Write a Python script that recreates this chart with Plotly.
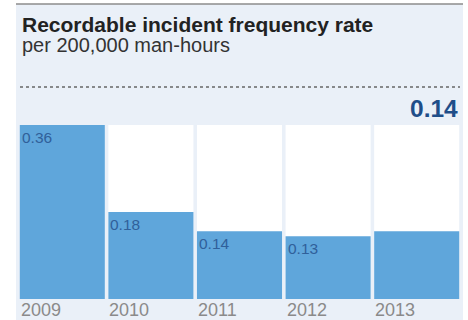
import plotly.graph_objects as go

years = ["2009", "2010", "2011", "2012", "2013"]
rates = [0.36, 0.18, 0.14, 0.13, 0.14]
headline = "0.14"
title = "Recordable incident frequency rate"
subtitle = "per 200,000 man-hours"

# plot area in pixels: x 18..461, y 125..299
W, H = 468, 320
L, R, T, B = 18, 7, 125, 21
pw, ph = W - L - R, H - T - B


def px_x(p):
    return (p - L) / pw


def px_y(p):
    return (H - B - p) / ph


font = "Liberation Sans, Arial, Helvetica, sans-serif"
xs = list(range(len(years)))
top = max(rates)
gap = 0.04
half = (1 - gap) / 2

fig = go.Figure()
fig.add_trace(go.Bar(x=xs, y=[top] * len(xs), marker=dict(color="white", line=dict(width=0)),
                     hoverinfo="skip", showlegend=False))
fig.add_trace(go.Bar(x=xs, y=rates, marker=dict(color="#5fa6db", line=dict(width=0)),
                     showlegend=False))

# value labels inside bars (last one is shown as headline)
for i, v in enumerate(rates[:-1]):
    fig.add_annotation(x=i - half, y=v, xref="x", yref="y", text=f"{v:.2f}",
                       showarrow=False, xanchor="left", yanchor="middle", xshift=0, yshift=-12,
                       font=dict(family=font, size=15.5, color="#30609a"))

# year labels below bars
for i, yr in enumerate(years):
    fig.add_annotation(x=i - half, y=px_y(310), xref="x", yref="paper", text=yr,
                       showarrow=False, xanchor="left", yanchor="middle", xshift=-1,
                       font=dict(family=font, size=18, color="#8a8a8a"))

fig.add_annotation(x=px_x(20), y=px_y(24), xref="paper", yref="paper", text=f"<b>{title}</b>",
                   showarrow=False, xanchor="left", yanchor="middle",
                   font=dict(family=font, size=21, color="#222222"))
fig.add_annotation(x=px_x(20), y=px_y(45), xref="paper", yref="paper", text=subtitle,
                   showarrow=False, xanchor="left", yanchor="middle",
                   font=dict(family=font, size=20, color="#333333"))
fig.add_annotation(x=px_x(460), y=px_y(108), xref="paper", yref="paper", text=f"<b>{headline}</b>",
                   showarrow=False, xanchor="right", yanchor="middle",
                   font=dict(family=font, size=24.5, color="#1f4e89"))

fig.update_layout(
    width=W, height=H,
    margin=dict(l=L, r=R, t=T, b=B),
    paper_bgcolor="white",
    plot_bgcolor="rgba(0,0,0,0)",
    barmode="overlay",
    bargap=gap,
    xaxis=dict(range=[-0.5, len(xs) - 0.5], showticklabels=False, showgrid=False,
               zeroline=False, fixedrange=True),
    yaxis=dict(range=[0, top], showticklabels=False, showgrid=False,
               zeroline=False, fixedrange=True),
    shapes=[
        dict(type="rect", xref="paper", yref="paper", x0=px_x(16), x1=px_x(463),
             y0=px_y(320), y1=px_y(4), fillcolor="#eaf0f8", line=dict(width=0), layer="below"),
        dict(type="line", xref="paper", yref="paper", x0=px_x(16), x1=px_x(463),
             y0=px_y(4), y1=px_y(4), line=dict(color="#8c8c8c", width=1.5)),
        dict(type="line", xref="paper", yref="paper", x0=px_x(20), x1=px_x(460),
             y0=px_y(87), y1=px_y(87), line=dict(color="#666666", width=1.5, dash="dot")),
    ],
)

fig.write_html("out.html", config={"displayModeBar": False},
               post_script="document.body.style.margin='0';document.body.style.overflow='hidden';")
